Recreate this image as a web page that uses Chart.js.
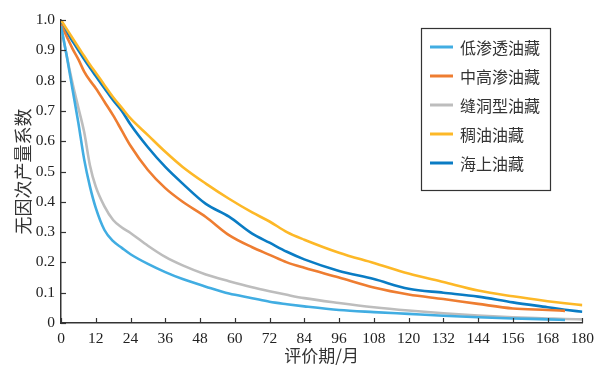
<!DOCTYPE html>
<html>
<head>
<meta charset="utf-8">
<script src="https://cdn.jsdelivr.net/npm/chart.js@4.4.1/dist/chart.umd.min.js"></script>
<style>
  html, body { margin: 0; padding: 0; background: #fff; }
  #wrap { width: 601px; height: 368px; }
</style>
</head>
<body>
<div id="wrap"><canvas id="decline"></canvas></div>
<script>
// evaluation period, months
const months = [0, 2, 4, 6, 8, 10, 12, 15, 18, 21, 24, 30, 36, 42, 50, 58, 66, 72, 78, 84, 96, 108, 120, 132, 144, 156, 168, 174, 180];
// dimensionless production coefficient per reservoir type
const lowPerm   = [0.98, 0.88, 0.77, 0.66, 0.54, 0.45, 0.38, 0.307, 0.27, 0.248, 0.227, 0.195, 0.168, 0.145, 0.12, 0.097, 0.082, 0.07, 0.062, 0.055, 0.043, 0.036, 0.03, 0.024, 0.019, 0.015, 0.012, 0.01, null];
const midHigh   = [0.985, 0.945, 0.905, 0.87, 0.83, 0.80, 0.775, 0.73, 0.685, 0.635, 0.585, 0.505, 0.445, 0.40, 0.35, 0.29, 0.25, 0.225, 0.20, 0.182, 0.15, 0.117, 0.094, 0.079, 0.063, 0.048, 0.043, 0.04, null];
const fracCave  = [0.98, 0.88, 0.79, 0.71, 0.63, 0.52, 0.45, 0.385, 0.34, 0.315, 0.297, 0.255, 0.218, 0.19, 0.16, 0.138, 0.118, 0.105, 0.093, 0.082, 0.066, 0.052, 0.041, 0.032, 0.025, 0.019, 0.015, 0.013, 0.012];
const heavyOil  = [1.0, 0.97, 0.94, 0.91, 0.881, 0.852, 0.826, 0.785, 0.745, 0.71, 0.675, 0.62, 0.565, 0.515, 0.46, 0.41, 0.365, 0.335, 0.30, 0.275, 0.232, 0.198, 0.163, 0.135, 0.107, 0.088, 0.072, 0.065, 0.059];
const offshore  = [0.99, 0.96, 0.93, 0.90, 0.87, 0.842, 0.815, 0.775, 0.735, 0.70, 0.655, 0.58, 0.515, 0.46, 0.393, 0.351, 0.295, 0.265, 0.235, 0.21, 0.172, 0.145, 0.113, 0.10, 0.087, 0.068, 0.052, 0.044, 0.037];

const seriesNames = ["低渗透油藏", "中高渗油藏", "缝洞型油藏", "稠油油藏", "海上油藏"];
const seriesData = [lowPerm, midHigh, fracCave, heavyOil, offshore];
const colors = ["#41ADE2", "#EE7D31", "#BDBDBD", "#FDB827", "#0A7CC4"];

const xTicks = [0, 12, 24, 36, 48, 60, 72, 84, 96, 108, 120, 132, 144, 156, 168, 180];

const serif = "'Liberation Serif', 'Times New Roman', serif";
const cjk = "'Noto Sans CJK SC', sans-serif";

// ticks pointing into the plot, and the boxed legend inside the plot
const decorations = {
    id: 'decorations',
    afterDraw(chart) {
        const ctx = chart.ctx;
        const x = chart.scales.x, y = chart.scales.y;
        const area = chart.chartArea;
        ctx.save();
        ctx.strokeStyle = '#333';
        ctx.lineWidth = 1.2;
        x.ticks.forEach(t => {
            const px = Math.round(x.getPixelForValue(t.value)) + 0.5;
            ctx.beginPath();
            ctx.moveTo(px, area.bottom);
            ctx.lineTo(px, area.bottom - 5);
            ctx.stroke();
        });
        y.ticks.forEach(t => {
            const py = Math.round(y.getPixelForValue(t.value)) + 0.5;
            ctx.beginPath();
            ctx.moveTo(area.left, py);
            ctx.lineTo(area.left + 5, py);
            ctx.stroke();
        });

        // legend
        ctx.lineWidth = 1.2;
        ctx.strokeRect(421.5, 28.5, 129, 162);
        ctx.font = "16px " + cjk;
        ctx.textBaseline = 'middle';
        ctx.fillStyle = '#333';
        chart.data.datasets.forEach((ds, i) => {
            const ly = 47 + i * 29;
            ctx.strokeStyle = ds.borderColor;
            ctx.lineWidth = 3;
            ctx.beginPath();
            ctx.moveTo(430, ly);
            ctx.lineTo(453, ly);
            ctx.stroke();
            ctx.fillText(ds.label, 460, ly + 1);
        });
        ctx.restore();
    }
};

new Chart(document.getElementById('decline'), {
    type: 'line',
    data: {
        datasets: seriesNames.map((name, i) => ({
            label: name,
            data: months.map((m, j) => ({ x: m, y: seriesData[i][j] })),
            borderColor: colors[i],
            borderWidth: 2.6,
            pointRadius: 0,
            cubicInterpolationMode: 'monotone',
            fill: false,
            spanGaps: false
        }))
    },
    options: {
        responsive: true,
        maintainAspectRatio: false,
        animation: false,
        layout: { padding: { left: 0, right: 9, top: 20, bottom: 0 } },
        plugins: {
            legend: { display: false },
            tooltip: { enabled: false }
        },
        scales: {
            x: {
                type: 'linear',
                min: 0,
                max: 180,
                afterBuildTicks: s => { s.ticks = xTicks.map(v => ({ value: v })); },
                afterFit: s => { s.height = 45; },
                grid: { display: false, drawTicks: false },
                border: { color: '#333', width: 1.5 },
                ticks: {
                    color: '#222',
                    font: { family: serif, size: 15.5 },
                    padding: 7,
                    maxRotation: 0,
                    autoSkip: false
                },
                title: {
                    display: true,
                    text: '评价期/月',
                    color: '#333',
                    font: { family: cjk, size: 17 },
                    padding: { top: 0, bottom: 2 }
                }
            },
            y: {
                min: 0,
                max: 1,
                afterFit: s => { s.width = 61; },
                grid: { display: false, drawTicks: false },
                border: { color: '#333', width: 1.5 },
                ticks: {
                    stepSize: 0.1,
                    color: '#222',
                    font: { family: serif, size: 15.5 },
                    padding: 6,
                    callback: v => v === 0 ? '0' : v.toFixed(1)
                },
                title: {
                    display: true,
                    text: '无因次产量系数',
                    color: '#333',
                    font: { family: cjk, size: 18 },
                    padding: { top: 12, bottom: 2 }
                }
            }
        }
    },
    plugins: [decorations]
});
</script>
</body>
</html>
